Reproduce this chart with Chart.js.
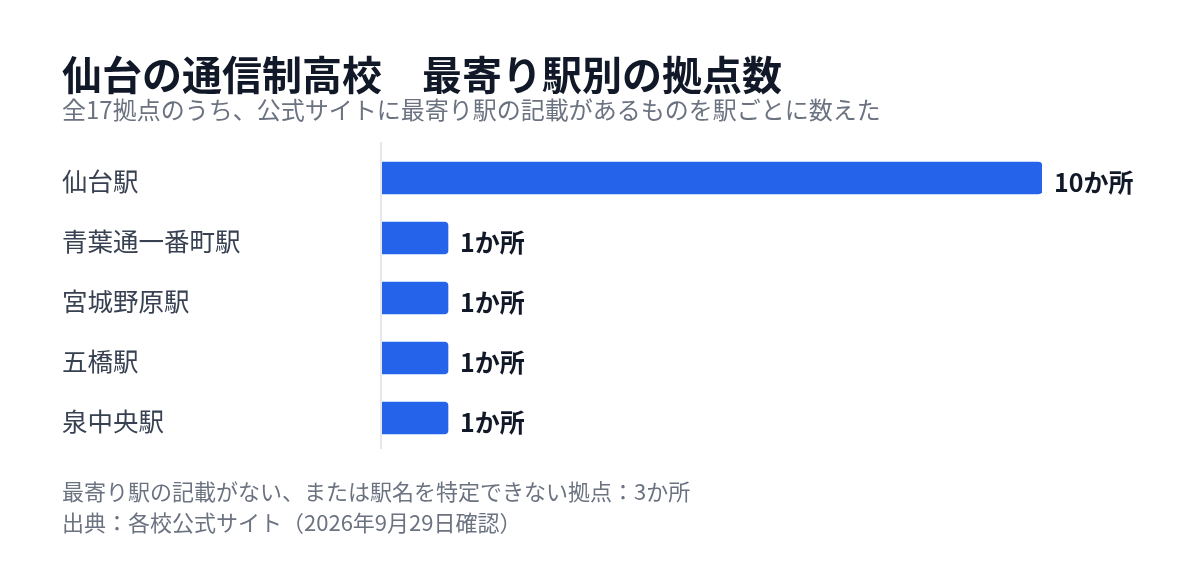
<!DOCTYPE html>
<html lang="ja">
<head>
<meta charset="utf-8">
<script src="https://cdn.jsdelivr.net/npm/chart.js@4"></script>
<style>
  html, body { margin: 0; padding: 0; background: #ffffff; }
  body { width: 1200px; height: 568px; position: relative; overflow: hidden;
         font-family: "Noto Sans CJK JP", "Noto Sans", sans-serif; }
  #wrap { position: absolute; left: 0; top: 0; width: 1200px; height: 568px; }
  .txt { position: absolute; left: 62px; white-space: nowrap; line-height: 1; }
  #title { top: 53px; font-size: 40px; font-weight: 700; color: #111827; }
  #subtitle { top: 97px; font-size: 24px; color: #6b7280; }
  #note1 { top: 479px; font-size: 22px; color: #6b7280; }
  #note2 { top: 510px; font-size: 22px; color: #6b7280; }
</style>
</head>
<body>
<div id="wrap"><canvas id="c" width="1200" height="568"></canvas></div>
<div class="txt" id="title">仙台の通信制高校　最寄り駅別の拠点数</div>
<div class="txt" id="subtitle">全17拠点のうち、公式サイトに最寄り駅の記載があるものを駅ごとに数えた</div>
<div class="txt" id="note1">最寄り駅の記載がない、または駅名を特定できない拠点：3か所</div>
<div class="txt" id="note2">出典：各校公式サイト（2026年9月29日確認）</div>
<script>
const stations = ["仙台駅", "青葉通一番町駅", "宮城野原駅", "五橋駅", "泉中央駅"];
const counts = [10, 1, 1, 1, 1];
const unitLabel = "か所";

const FONT = '"Noto Sans CJK JP", "Noto Sans", sans-serif';

const axisLine = {
  id: 'axisLine',
  beforeDatasetsDraw(chart) {
    const { ctx, chartArea } = chart;
    ctx.save();
    ctx.strokeStyle = '#e5e7eb';
    ctx.lineWidth = 2;
    ctx.beginPath();
    ctx.moveTo(chartArea.left - 1, chartArea.top - 6);
    ctx.lineTo(chartArea.left - 1, chartArea.bottom + 1);
    ctx.stroke();
    ctx.restore();
  }
};

const valueLabels = {
  id: 'valueLabels',
  afterDatasetsDraw(chart) {
    const ctx = chart.ctx;
    const meta = chart.getDatasetMeta(0);
    ctx.save();
    ctx.font = '700 25px ' + FONT;
    ctx.fillStyle = '#111827';
    ctx.textAlign = 'left';
    ctx.textBaseline = 'middle';
    meta.data.forEach((bar, i) => {
      ctx.fillText(counts[i] + unitLabel, bar.x + 12, bar.y + 4);
    });
    ctx.restore();
  }
};

new Chart(document.getElementById('c'), {
  type: 'bar',
  data: {
    labels: stations,
    datasets: [{
      data: counts,
      backgroundColor: '#2563eb',
      borderRadius: 4,
      barThickness: 32
    }]
  },
  options: {
    indexAxis: 'y',
    responsive: false,
    animation: false,
    layout: { padding: { top: 148, bottom: 120, left: 62, right: 158 } },
    plugins: { legend: { display: false }, tooltip: { enabled: false } },
    scales: {
      x: { display: false, min: 0, max: 10 },
      y: {
        afterFit(scale) { scale.width = 320; },
        grid: { display: false, drawTicks: false },
        border: { display: false },
        ticks: {
          crossAlign: 'far',
          color: '#374151',
          font: { family: FONT, size: 25.5 },
          padding: 0,
          labelOffset: 3
        }
      }
    }
  },
  plugins: [axisLine, valueLabels]
});
</script>
</body>
</html>
